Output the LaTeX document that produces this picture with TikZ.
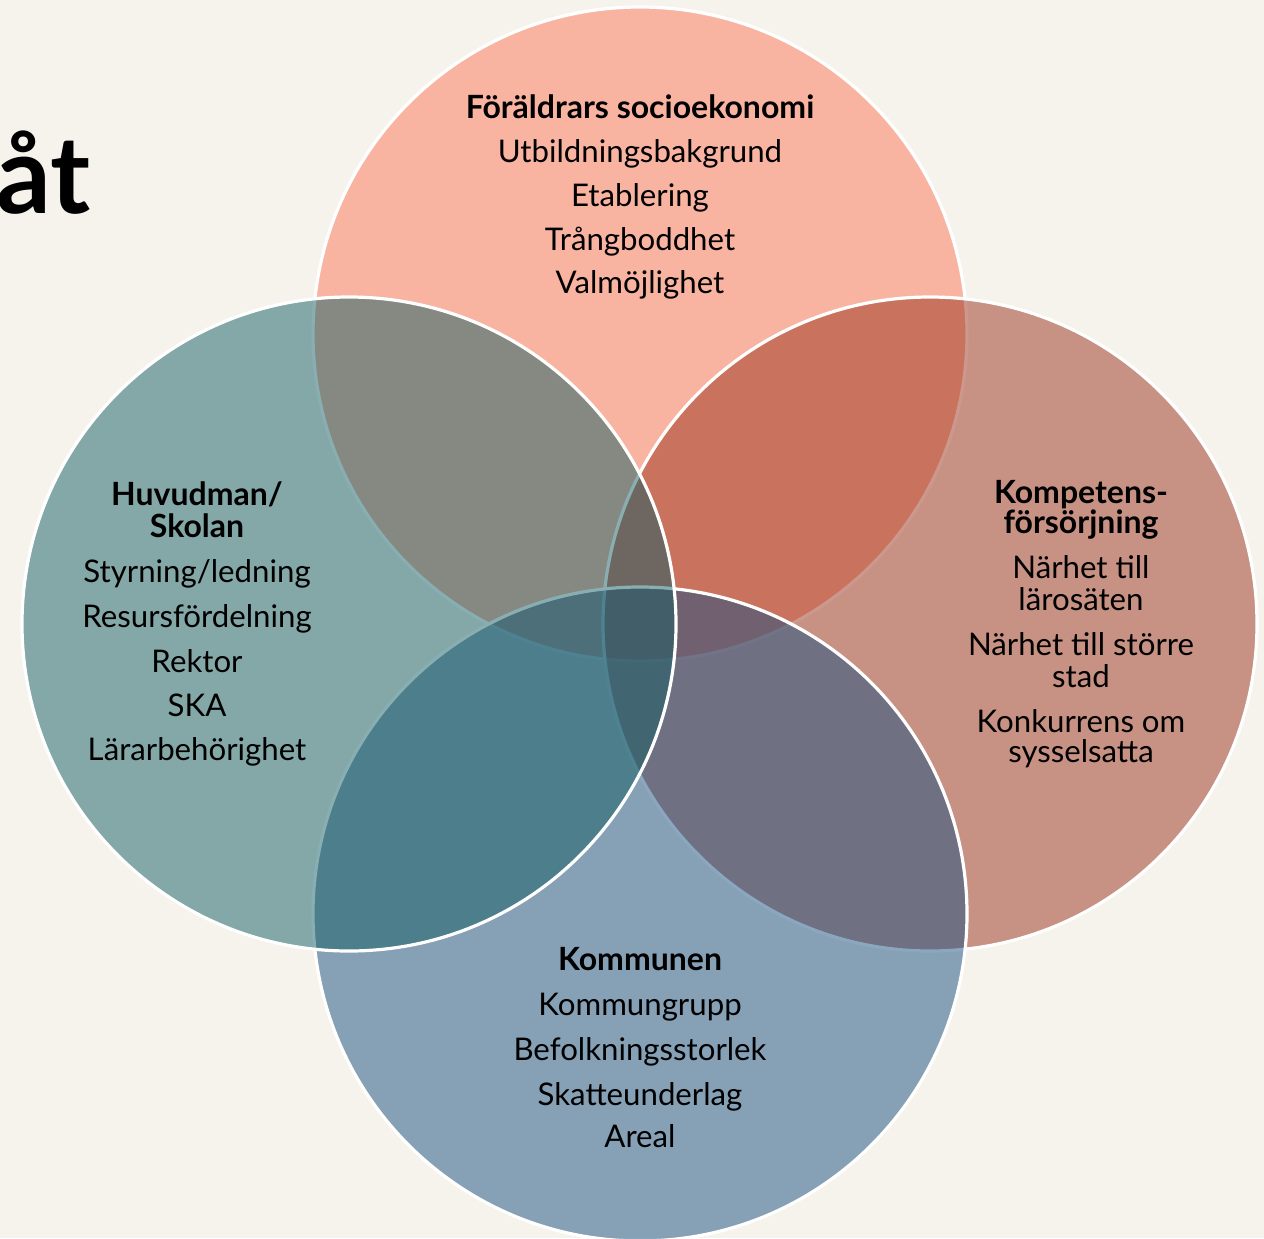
\documentclass[tikz,border=0pt]{standalone}
\usepackage{fontspec}
\setmainfont{Lato}
\usetikzlibrary{positioning}
\definecolor{bgcream}{RGB}{246,242,236}
\definecolor{vennsalmon}{RGB}{252,120,88}
\definecolor{vennrose}{RGB}{154,50,28}
\definecolor{vennblue}{RGB}{24,80,130}
\definecolor{vennteal}{RGB}{20,94,100}

\begin{document}
\begin{tikzpicture}[x=0.5pt, y=-0.5pt,
    venn/.style={fill=#1, fill opacity=0.5},
    rim/.style={draw=white, line width=1.6pt},
    item/.style={anchor=base, inner sep=0pt, font=\fontsize{15.6}{18}\selectfont},
    head/.style={item, font=\fontsize{16}{18}\selectfont\bfseries}]
    % page
    \fill[bgcream] (0,0) rectangle (1264,1238);
    \useasboundingbox (0,0) rectangle (1264,1238);

    % title fragment
    \node[anchor=base east, inner sep=0pt, font=\fontsize{54}{60}\selectfont\bfseries] (title) at (91,213) {åt};

    % circles: top, right, bottom, left
    \foreach \name/\cx/\cy/\col in {
        top/640/334/vennsalmon,
        right/930/624/vennrose,
        bottom/640/914/vennblue,
        left/349/624/vennteal%
    } {
        \coordinate (c\name) at (\cx,\cy);
        \fill[venn=\col] (c\name) circle[radius=327];
        \draw[rim] (c\name) circle[radius=327];
    }

    % Föräldrars socioekonomi
    \node[head] (hdtop) at (640,118) {Föräldrars socioekonomi};
    \foreach \y/\t [count=\i] in {162/Utbildningsbakgrund, 206/Etablering, 250/Trångboddhet, 293/Valmöjlighet}
        \node[item] (top\i) at (640,\y) {\t};

    % Huvudman/Skolan
    \node[head] (hdleft1) at (197,505) {Huvudman/};
    \node[head] (hdleft2) at (197,537) {Skolan};
    \foreach \y/\t [count=\i] in {582/{Styrning/ledning}, 627/Resursfördelning, 672/Rektor, 716/SKA, 760/Lärarbehörighet}
        \node[item] (left\i) at (197,\y) {\t};

    % Kompetensförsörjning
    \node[head] (hdright1) at (1081,503) {Kompetens-};
    \node[head] (hdright2) at (1081,533) {försörjning};
    \foreach \y/\t [count=\i] in {578/Närhet till, 610/lärosäten, 655/Närhet till större, 687/stad, 732/Konkurrens om, 762/sysselsatta}
        \node[item] (right\i) at (1081,\y) {\t};

    % Kommunen
    \node[head] (hdbottom) at (640,970) {Kommunen};
    \foreach \y/\t [count=\i] in {1015/Kommungrupp, 1060/Befolkningsstorlek, 1105/Skatteunderlag, 1147/Areal}
        \node[item] (bottom\i) at (640,\y) {\t};
\end{tikzpicture}
\end{document}
